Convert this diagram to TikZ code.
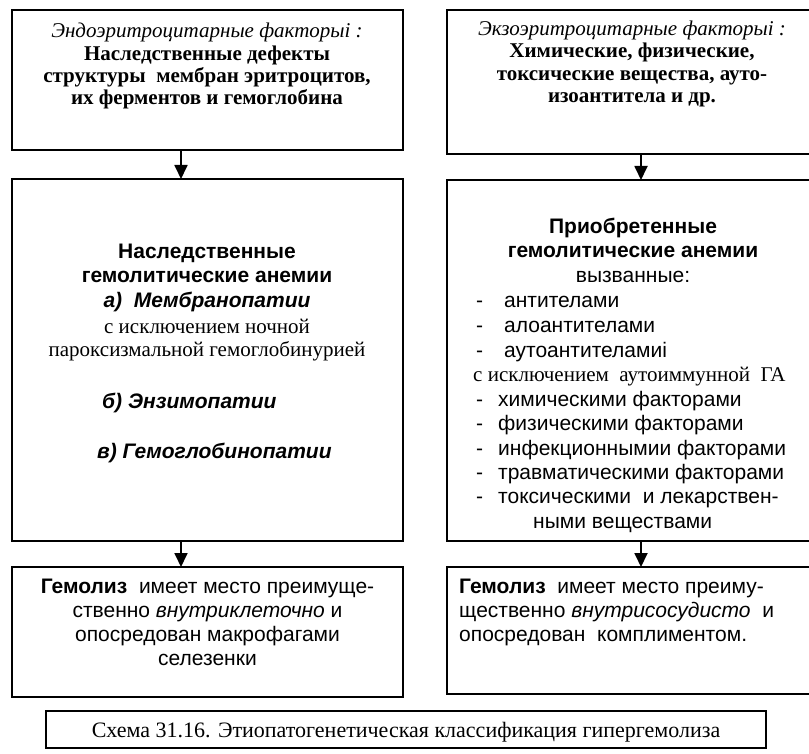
\documentclass[tikz,border=0pt]{standalone}
\usepackage{fontspec}
\setmainfont{Liberation Serif}
\setsansfont{Liberation Sans}
\usetikzlibrary{arrows.meta}
\begin{document}
\begin{tikzpicture}[x=1pt,y=-1pt,
  frame/.style={draw, line width=1.8pt, inner sep=0pt, outer sep=0pt},
  rm/.style={font=\fontsize{21}{24}\selectfont\rmfamily, inner sep=0pt, anchor=base},
  sf/.style={font=\fontsize{21}{24}\selectfont\sffamily, inner sep=0pt, anchor=base},
  link/.style={line width=1.8pt, -{Triangle[width=13pt,length=14pt]}}]
\clip (0,0) rectangle (809,754);
\fill[white] (0,0) rectangle (809,754);

% frames
\node[frame, minimum width=391pt, minimum height=140pt] (tl) at (207.5,80) {};
\node[frame, minimum width=371pt, minimum height=144pt] (tr) at (632.5,82) {};
\node[frame, minimum width=391pt, minimum height=362pt] (ml) at (207.5,360) {};
\node[frame, minimum width=371pt, minimum height=361pt] (mr) at (632.5,360.5) {};
\node[frame, minimum width=391pt, minimum height=130pt] (bl) at (207.5,632) {};
\node[frame, minimum width=371pt, minimum height=127pt] (br) at (632.5,630.5) {};
\node[frame, minimum width=720pt, minimum height=37pt] (cap) at (406,729.5) {};

% arrows
\coordinate (la) at (181,0);
\coordinate (ra) at (641,0);
\draw[link] (tl.south -| la) -- (ml.north -| la);
\draw[link] (ml.south -| la) -- (bl.north -| la);
\draw[link] (tr.south -| ra) -- (mr.north -| ra);
\draw[link] (mr.south -| ra) -- (br.north -| ra);

% top left
\node[rm] (tl1) at (207,38) {\itshape Эндоэритроцитарные факторыi :};
\node[rm] (tl2) at (207,61) {\bfseries Наследственные дефекты};
\node[rm] (tl3) at (207,83) {\bfseries структуры\ \ мембран эритроцитов,};
\node[rm] (tl4) at (207,105) {\bfseries их ферментов и гемоглобина};

% top right
\node[rm] (tr1) at (632,36) {\itshape Экзоэритроцитарные факторыi :};
\node[rm] (tr2) at (632,58) {\bfseries Химические, физические,};
\node[rm] (tr3) at (632,81) {\bfseries токсические вещества, ауто-};
\node[rm] (tr4) at (632,103) {\bfseries изоантитела и др.};

% middle left
\node[sf] (ml1) at (207,259) {\bfseries Наследственные};
\node[sf] (ml2) at (207,283) {\bfseries гемолитические анемии};
\node[sf] (ml3) at (207,308) {\bfseries\itshape а)\ \ Мембранопатии};
\node[rm] (ml4) at (207,333) {с исключением ночной};
\node[rm] (ml5) at (207,356) {пароксизмальной гемоглобинурией};
\node[sf, anchor=base west] (ml6) at (102,408) {\bfseries\itshape б) Энзимопатии};
\node[sf, anchor=base west] (ml7) at (97,458) {\bfseries\itshape в) Гемоглобинопатии};

% middle right
\node[sf] (mr1) at (633,234) {\bfseries Приобретенные};
\node[sf] (mr2) at (633,258) {\bfseries гемолитические анемии};
\node[sf] (mr3) at (633,283) {вызванные:};
\foreach \n/\y/\x/\t in {1/308/504/антителами, 2/332/504/алоантителами,
    3/357/504/аутоантителамиi, 5/406/498/химическими факторами,
    6/430/498/физическими факторами, 7/455/498/инфекционнымии факторами,
    8/479/498/травматическими факторами, 9/503/498/токсическими\ \ и лекарствен-} {
  \node[sf, anchor=base west] (mrd\n) at (476,\y) {-};
  \node[sf, anchor=base west] (mrt\n) at (\x,\y) {\t};
}
\node[rm, anchor=base west] (mrt4) at (473,381) {с исключением\ \ аутоиммунной\ \ ГА};
\node[sf, anchor=base west] (mrt10) at (533,528) {ными веществами};

% bottom left
\node[sf] (bl1) at (207.5,593) {\textbf{Гемолиз}\ \ имеет место преимуще-};
\node[sf] (bl2) at (207.5,617) {ственно \textit{внутриклеточно} и};
\node[sf] (bl3) at (207.5,641) {опосредован макрофагами};
\node[sf] (bl4) at (207.5,665) {селезенки};

% bottom right
\node[sf, anchor=base west] (br1) at (459,593) {\textbf{Гемолиз}\ \ имеет место преиму-};
\node[sf, anchor=base west] (br2) at (459,617) {щественно \textit{внутрисосудисто}\ \ и};
\node[sf, anchor=base west] (br3) at (459,641) {опосредован\ \ комплиментом.};

% caption
\node[rm, font=\fontsize{22}{24}\selectfont\rmfamily] (cap1) at (406,737) {Схема 31.16. Этиопатогенетическая классификация гипергемолиза};
\end{tikzpicture}
\end{document}
